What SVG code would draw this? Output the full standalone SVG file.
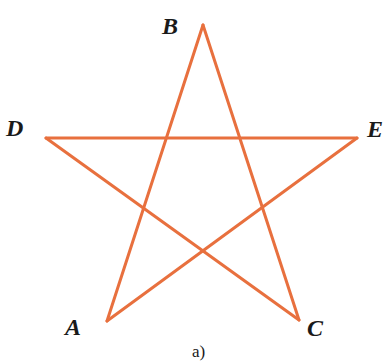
<svg xmlns="http://www.w3.org/2000/svg" width="392" height="363" viewBox="0 0 392 363">
<style>
.edge{stroke:#E8703E;stroke-width:3;fill:none;stroke-linecap:round}
.lbl{font-family:"Liberation Serif",serif;font-style:italic;font-weight:bold;font-size:24px;fill:#1a1a1a}
.cap{font-family:"Liberation Serif",serif;font-size:17px;fill:#1a1a1a}
</style>
<rect width="392" height="363" fill="#ffffff"/>
<g id="connectors">
<line class="edge" x1="203" y1="25" x2="107" y2="321"/>
<line class="edge" x1="203" y1="25" x2="299" y2="320"/>
<line class="edge" x1="46" y1="138" x2="357" y2="138"/>
<line class="edge" x1="46" y1="138" x2="299" y2="320"/>
<line class="edge" x1="357" y1="138" x2="107" y2="321"/>
</g>
<g id="B"><text class="lbl" x="162" y="34">B</text></g>
<g id="D"><text class="lbl" x="6" y="136">D</text></g>
<g id="E"><text class="lbl" x="367" y="137">E</text></g>
<g id="A"><text class="lbl" x="65" y="335">A</text></g>
<g id="C"><text class="lbl" x="307" y="336">C</text></g>
<g id="caption"><text class="cap" x="192" y="357">a)</text></g>
</svg>
